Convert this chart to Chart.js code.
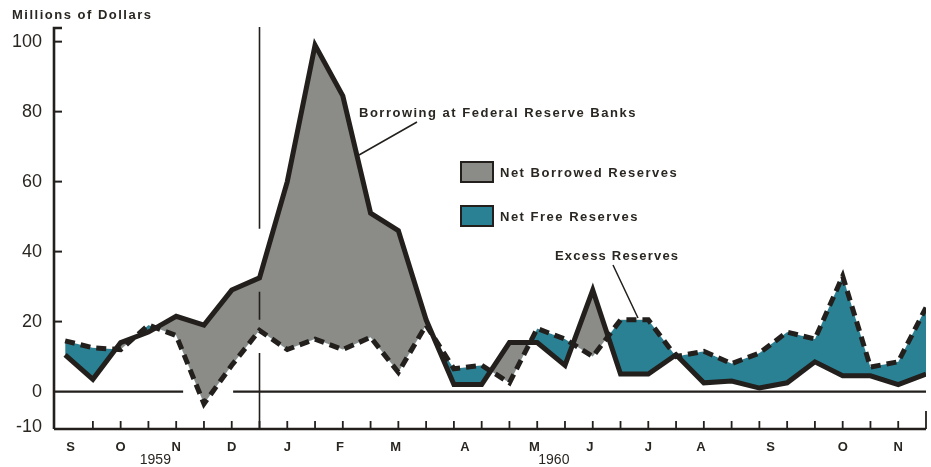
<!DOCTYPE html>
<html>
<head>
<meta charset="utf-8">
<script src="https://cdn.jsdelivr.net/npm/chart.js@4.4.0/dist/chart.umd.min.js"></script>
<style>
  html, body { margin: 0; padding: 0; background: #fff; }
  #wrap { width: 931px; height: 467px; position: relative; }
</style>
</head>
<body>
<div id="wrap"><canvas id="myChart"></canvas></div>
<script>
// half-month periods, Sep 1959 - Nov 1960
var periods = ['Sep 59 a', 'Sep 59 b', 'Oct 59 a', 'Oct 59 b', 'Nov 59 a', 'Nov 59 b', 'Dec 59 a', 'Dec 59 b',
               'Jan 60 a', 'Jan 60 b', 'Feb 60 a', 'Feb 60 b', 'Mar 60 a', 'Mar 60 b', 'Apr 60 a', 'Apr 60 b',
               'May 60 a', 'May 60 b', 'Jun 60 a', 'Jun 60 b', 'Jul 60 a', 'Jul 60 b', 'Aug 60 a', 'Aug 60 b',
               'Sep 60 a', 'Sep 60 b', 'Oct 60 a', 'Oct 60 b', 'Nov 60 a', 'Nov 60 b', 'Dec 60 a', 'Dec 60 b'];

// millions of dollars
var borrowing = [10.5, 3.5, 14, 17, 21.5, 19, 29, 32.5, 60, 99, 84.5, 51, 46, 20.5, 2, 2,
                 14, 14, 7.5, 29, 5, 5, 10.5, 2.5, 3, 1, 2.5, 8.5, 4.5, 4.5, 2, 5];
var excess    = [14.5, 12.5, 12, 19, 16, -3.5, 7.5, 17.5, 12, 15, 12, 15.5, 5.5, 19, 6.5, 7.5,
                 2.5, 18, 15, 10, 20.5, 20.5, 10, 11.5, 8, 11, 17, 15, 33, 7, 8.5, 24];

var yTicks = [-10, 0, 20, 40, 60, 80, 100];
var monthLetters = ['S', 'O', 'N', 'D', 'J', 'F', 'M', 'A', 'M', 'J', 'J', 'A', 'S', 'O', 'N'];
var monthAt = [0.2, 2, 4, 6, 8, 9.9, 11.9, 14.4, 16.9, 18.9, 21, 22.9, 25.4, 28, 30]; // index on the period axis
var years = ['1959', '1960'];
var yearAt = [3.25, 17.6];
var yearBreak = 7; // Jan 1960

var ink = '#221f1c';
var txt = '#2a2621';
var grayFill = '#8b8b87';
var tealFill = '#2b8194';
var lbl = 'bold 13px "Liberation Sans", Arial, sans-serif';

function pts(arr) {
  return arr.map(function (v, i) { return { x: i, y: v }; });
}

// axes, zero line, notes - drawn by hand on top of the chart area
var decor = {
  id: 'decor',
  beforeDatasetsDraw: function (chart) {
    var ctx = chart.ctx, xs = chart.scales.x, ys = chart.scales.y;
    var y0 = ys.getPixelForValue(0);
    ctx.save();
    ctx.strokeStyle = ink;
    ctx.lineWidth = 2.2;
    ctx.beginPath();
    ctx.moveTo(chart.chartArea.left, y0); ctx.lineTo(xs.getPixelForValue(4.25), y0);
    ctx.moveTo(xs.getPixelForValue(6.05), y0); ctx.lineTo(chart.chartArea.right, y0);
    ctx.stroke();
    ctx.restore();
  },
  afterDraw: function (chart) {
    var ctx = chart.ctx, xs = chart.scales.x, ys = chart.scales.y;
    var a = chart.chartArea;
    ctx.save();
    ctx.strokeStyle = ink;
    ctx.lineCap = 'butt';

    // y axis + inner ticks
    ctx.lineWidth = 2.6;
    ctx.beginPath();
    ctx.moveTo(a.left, a.bottom); ctx.lineTo(a.left, a.top);
    ctx.lineTo(a.left + 8, a.top);
    ctx.stroke();
    ctx.lineWidth = 2;
    yTicks.forEach(function (v) {
      if (v <= 0) return;
      var y = ys.getPixelForValue(v);
      ctx.beginPath(); ctx.moveTo(a.left, y); ctx.lineTo(a.left + 8, y); ctx.stroke();
    });

    // bottom axis + half month ticks
    ctx.lineWidth = 2.6;
    ctx.beginPath(); ctx.moveTo(a.left, a.bottom); ctx.lineTo(a.right, a.bottom); ctx.stroke();
    ctx.lineWidth = 1.8;
    for (var i = 1; i < periods.length; i++) {
      var x = xs.getPixelForValue(i);
      var h = (i == periods.length - 1) ? 18 : 8;
      if (x > a.right) continue;
      ctx.beginPath(); ctx.moveTo(x, a.bottom); ctx.lineTo(x, a.bottom - h); ctx.stroke();
    }

    // year break
    var xb = xs.getPixelForValue(yearBreak);
    ctx.lineWidth = 1.6;
    ctx.beginPath();
    ctx.moveTo(xb, a.top - 1); ctx.lineTo(xb, ys.getPixelForValue(46.5));
    ctx.moveTo(xb, ys.getPixelForValue(28.5)); ctx.lineTo(xb, ys.getPixelForValue(20.5));
    ctx.moveTo(xb, ys.getPixelForValue(11)); ctx.lineTo(xb, a.bottom);
    ctx.stroke();

    // years
    ctx.fillStyle = txt;
    ctx.font = '14px "Liberation Sans", Arial, sans-serif';
    ctx.textAlign = 'center';
    ctx.textBaseline = 'middle';
    years.forEach(function (t, k) { ctx.fillText(t, xs.getPixelForValue(yearAt[k]), 460); });

    // text notes
    ctx.font = lbl;
    ctx.letterSpacing = '1.5px';
    ctx.textAlign = 'left';
    ctx.fillText('Millions of Dollars', 12, 15);
    ctx.fillText('Borrowing at Federal Reserve Banks', 359, 113);
    ctx.fillText('Net Borrowed Reserves', 500, 173);
    ctx.fillText('Net Free Reserves', 500, 217);
    ctx.letterSpacing = '1.2px';
    ctx.fillText('Excess Reserves', 555, 256);

    // leaders
    ctx.lineWidth = 1.5;
    ctx.beginPath();
    ctx.moveTo(417, 122); ctx.lineTo(359, 155);
    ctx.moveTo(613, 265); ctx.lineTo(638, 318);
    ctx.stroke();

    // legend boxes
    ctx.lineWidth = 2;
    ctx.fillStyle = grayFill;
    ctx.fillRect(461, 162, 32, 20); ctx.strokeRect(461, 162, 32, 20);
    ctx.fillStyle = tealFill;
    ctx.fillRect(461, 206, 32, 20); ctx.strokeRect(461, 206, 32, 20);
    ctx.restore();
  }
};

var ctx = document.getElementById('myChart').getContext('2d');
var myChart = new Chart(ctx, {
  type: 'line',
  data: {
    datasets: [
      {
        label: 'Borrowing at Federal Reserve Banks',
        data: pts(borrowing),
        borderColor: ink,
        borderWidth: 5,
        borderJoinStyle: 'miter',
        pointRadius: 0,
        tension: 0,
        fill: { target: 1, above: grayFill, below: tealFill }
      },
      {
        label: 'Excess Reserves',
        data: pts(excess),
        borderColor: ink,
        borderWidth: 5,
        borderDash: [10, 6],
        borderJoinStyle: 'miter',
        pointRadius: 0,
        tension: 0,
        fill: false
      }
    ]
  },
  options: {
    responsive: true,
    maintainAspectRatio: false,
    animation: false,
    layout: { padding: { top: 28, right: 5, left: 0, bottom: 0 } },
    plugins: {
      legend: { display: false },
      tooltip: { enabled: false },
      filler: { drawTime: 'beforeDatasetsDraw' }
    },
    scales: {
      x: {
        type: 'linear',
        min: -0.4,
        max: 31,
        afterBuildTicks: function (s) { s.ticks = monthAt.map(function (v) { return { value: v }; }); },
        afterFit: function (s) { s.height = 38; },
        grid: { display: false, drawTicks: false },
        border: { display: false },
        ticks: {
          autoSkip: false,
          maxRotation: 0,
          padding: 11,
          color: txt,
          font: { family: '"Liberation Sans", Arial, sans-serif', size: 13, weight: 'bold' },
          callback: function (v) { var k = monthAt.indexOf(v); return k < 0 ? '' : monthLetters[k]; }
        }
      },
      y: {
        min: -10.7,
        max: 103.9,
        afterBuildTicks: function (s) { s.ticks = yTicks.map(function (v) { return { value: v }; }); },
        afterFit: function (s) { s.width = 54; },
        grid: { display: false, drawTicks: false },
        border: { display: false },
        ticks: {
          padding: 12,
          color: txt,
          font: { family: '"Liberation Sans", Arial, sans-serif', size: 18 }
        }
      }
    }
  },
  plugins: [decor]
});
</script>
</body>
</html>
